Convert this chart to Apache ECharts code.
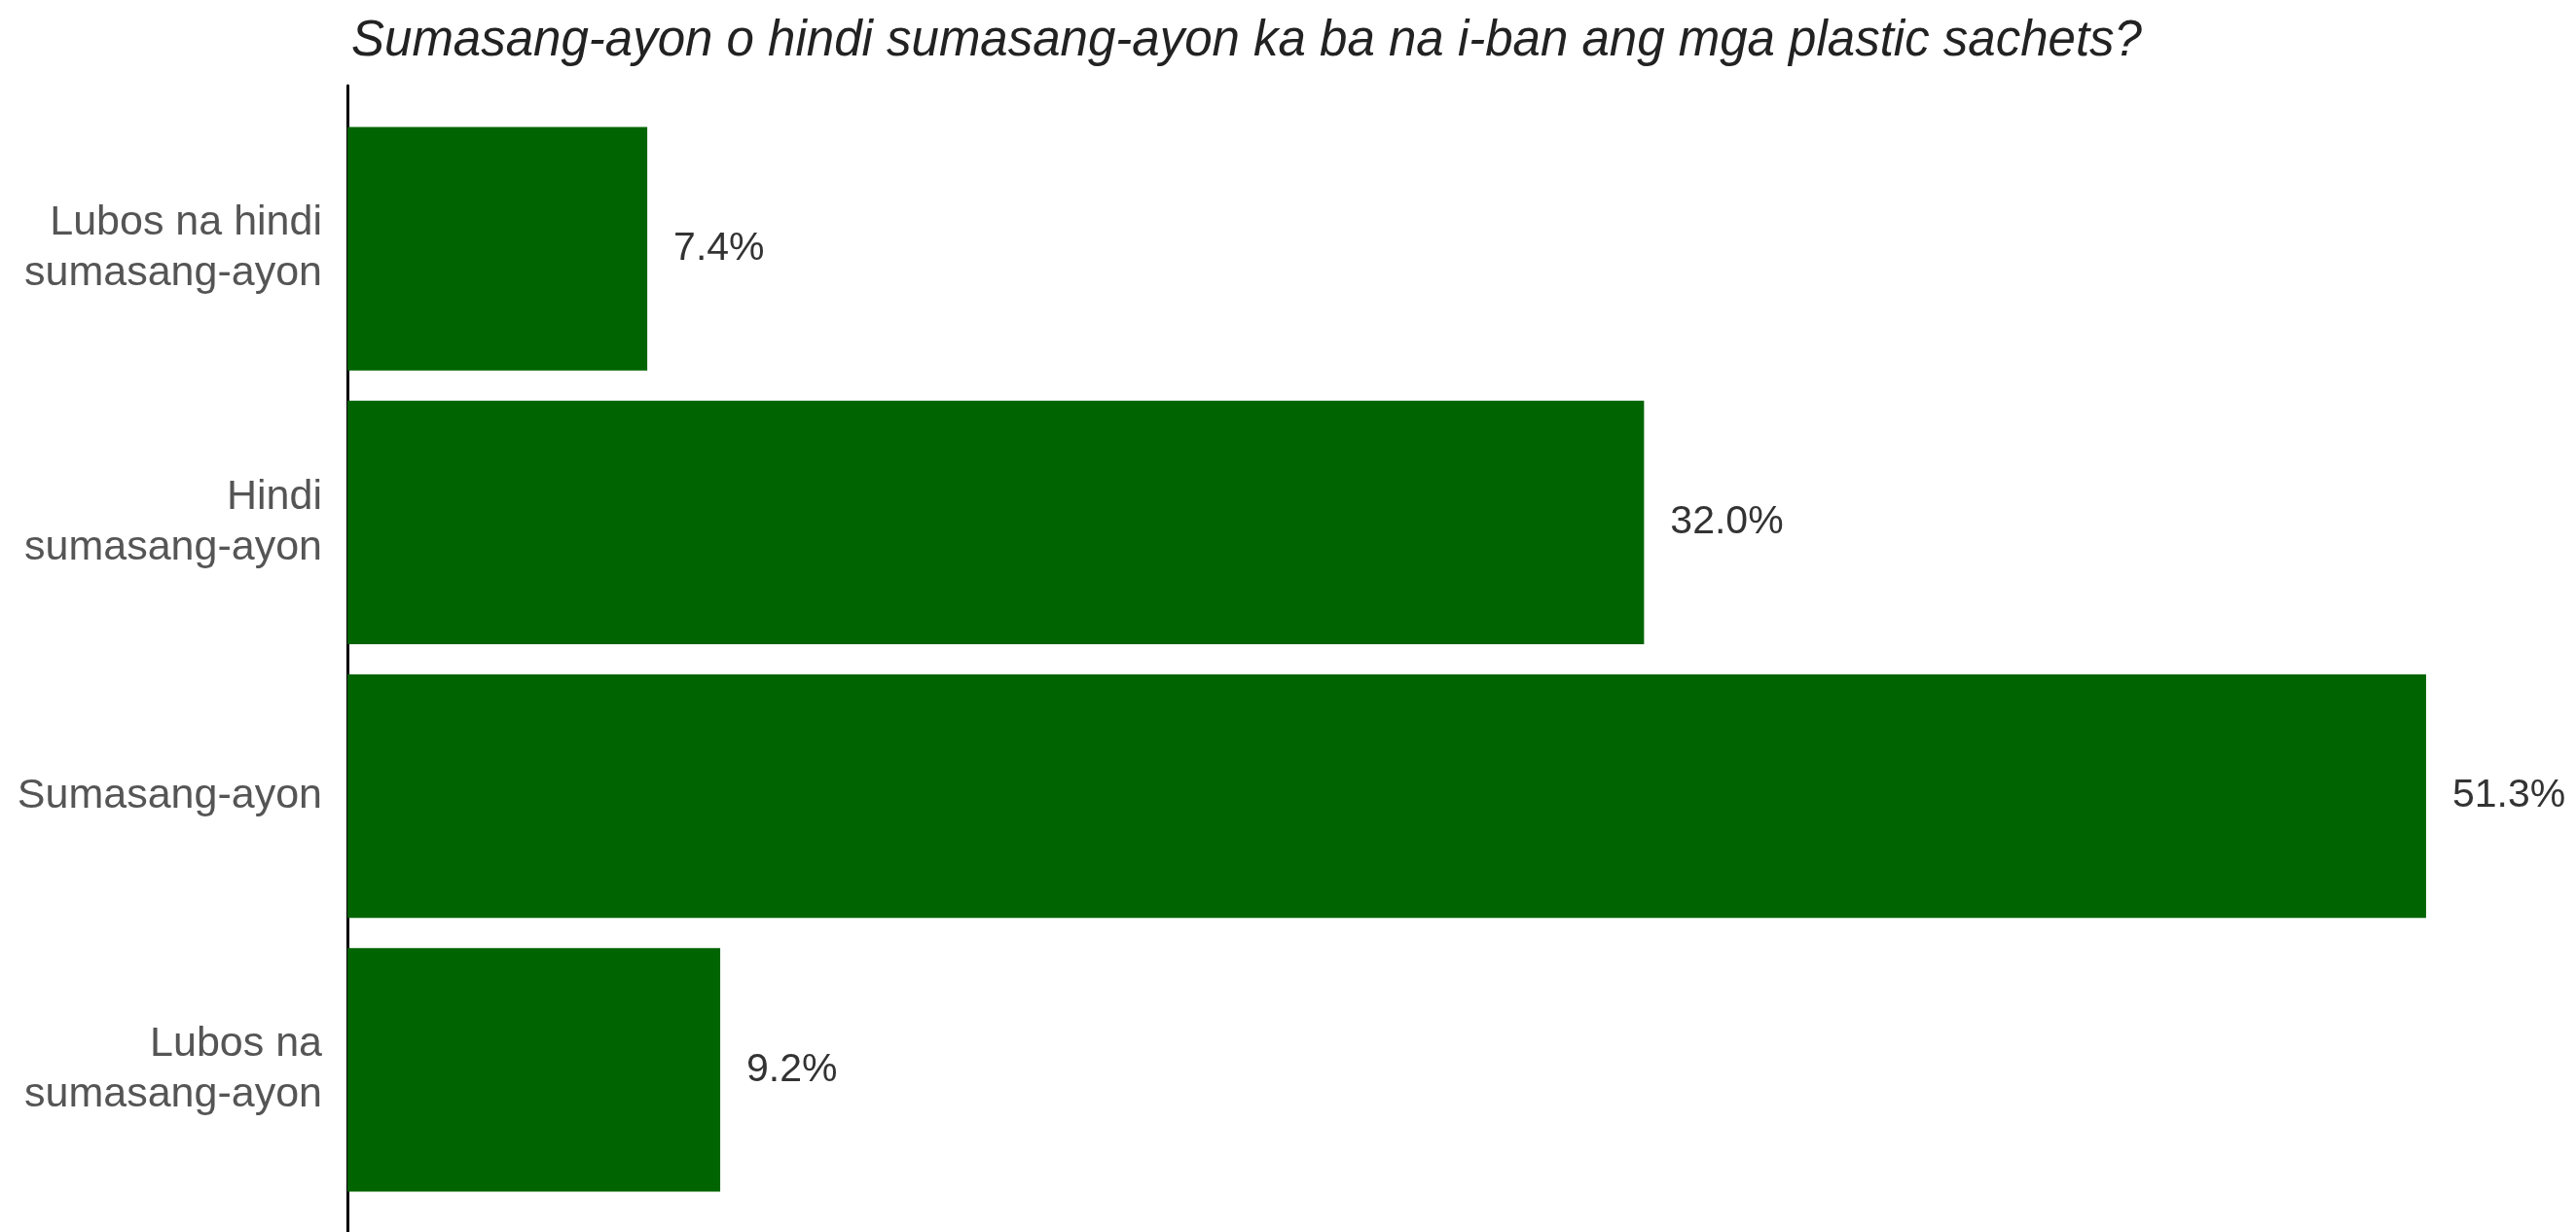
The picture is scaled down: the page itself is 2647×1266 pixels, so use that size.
<!DOCTYPE html>
<html>
<head>
<meta charset="utf-8">
<style>
html,body{margin:0;padding:0;background:#fff;}
#chart{width:2647px;height:1266px;}
</style>
<script src="https://cdn.jsdelivr.net/npm/echarts@6/dist/echarts.min.js"></script>
</head>
<body>
<div id="chart"></div>
<script>
const titleText = 'Sumasang-ayon o hindi sumasang-ayon ka ba na i-ban ang mga plastic sachets?';
const categories = [
  'Lubos na hindi\nsumasang-ayon',
  'Hindi\nsumasang-ayon',
  'Sumasang-ayon',
  'Lubos na\nsumasang-ayon'
];
const percentValues = [7.4, 32.0, 51.3, 9.2];

const chart = echarts.init(document.getElementById('chart'));
chart.setOption({
  animation: false,
  backgroundColor: '#ffffff',
  title: {
    text: titleText,
    left: 356,
    top: 12,
    textStyle: {
      fontFamily: 'Liberation Sans',
      fontStyle: 'italic',
      fontWeight: 'normal',
      fontSize: 51,
      color: '#222222'
    }
  },
  grid: [
    { left: 357, right: 0, top: 115, bottom: 26 },
    { left: 357, right: 0, top: 88, bottom: 0 }
  ],
  xAxis: [
    { type: 'value', gridIndex: 0, min: 0, max: 55, show: false },
    { type: 'value', gridIndex: 1, min: 0, max: 1, show: false }
  ],
  yAxis: [
    {
      type: 'category',
      gridIndex: 0,
      data: categories,
      inverse: true,
      axisLine: { show: false },
      axisTick: { show: false },
      splitLine: { show: false },
      axisLabel: {
        margin: 26,
        fontFamily: 'Liberation Sans',
        fontSize: 43,
        lineHeight: 52,
        color: '#555555',
        align: 'right'
      }
    },
    {
      type: 'value',
      gridIndex: 1,
      min: 0,
      max: 1,
      axisLine: { show: true, onZero: false, lineStyle: { color: '#000000', width: 3 } },
      axisTick: { show: false },
      axisLabel: { show: false },
      splitLine: { show: false }
    }
  ],
  series: [
    {
      type: 'bar',
      xAxisIndex: 0,
      yAxisIndex: 0,
      data: percentValues,
      barCategoryGap: '11%',
      itemStyle: { color: '#006400' },
      label: {
        show: true,
        position: 'right',
        distance: 27,
        formatter: p => p.value.toFixed(1) + '%',
        fontFamily: 'Liberation Sans',
        fontSize: 41,
        color: '#333333'
      }
    }
  ]
});
</script>
</body>
</html>
